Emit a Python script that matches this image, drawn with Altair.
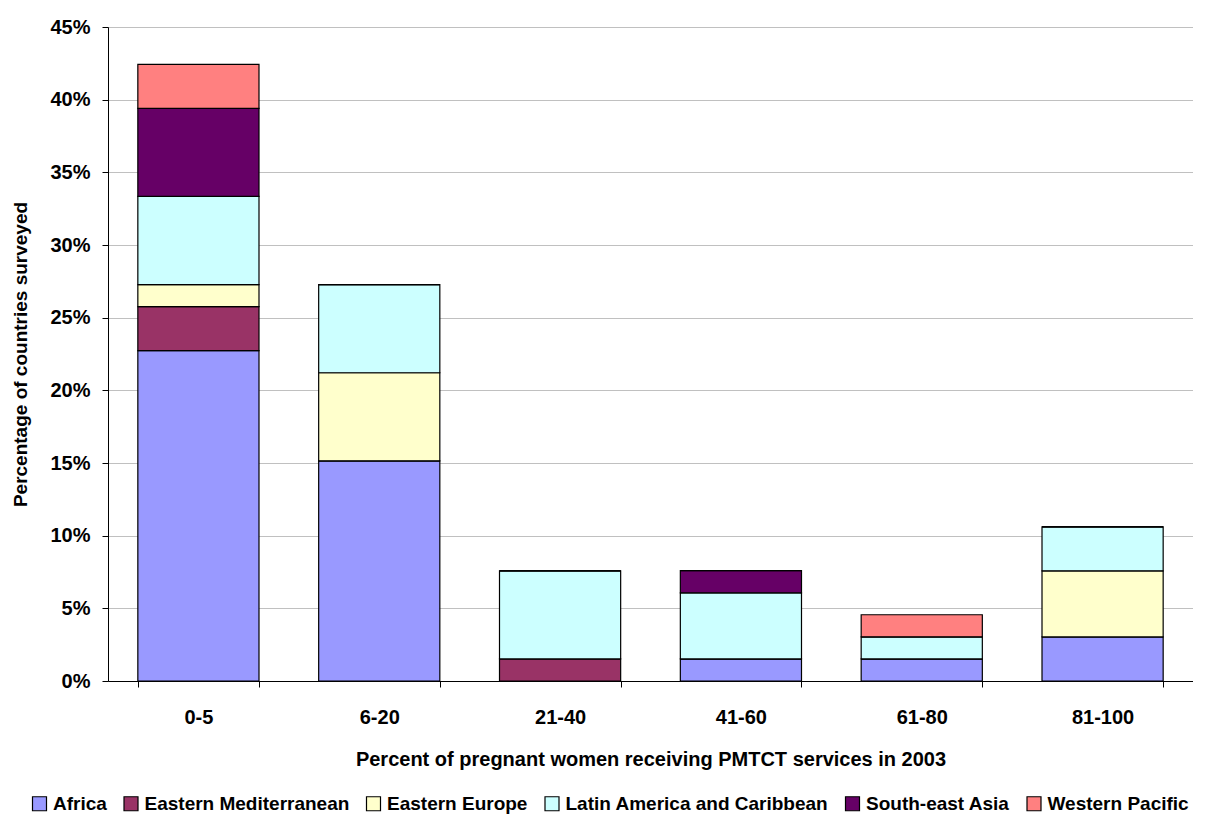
import altair as alt
import pandas as pd

categories = ["0-5", "6-20", "21-40", "41-60", "61-80", "81-100"]
regions = ["Africa", "Eastern Mediterranean", "Eastern Europe",
           "Latin America and Caribbean", "South-east Asia", "Western Pacific"]
colors = ["#9999FF", "#993366", "#FFFFCC", "#CCFFFF", "#660066", "#FF8080"]

# percentage of countries surveyed, per region, per category
africa = [22.73, 15.15, 0.0, 1.52, 1.52, 3.03]
eastern_med = [3.03, 0.0, 1.52, 0.0, 0.0, 0.0]
eastern_europe = [1.52, 6.06, 0.0, 0.0, 0.0, 4.55]
latin_america = [6.06, 6.06, 6.06, 4.55, 1.52, 3.03]
se_asia = [6.06, 0.0, 0.0, 1.52, 0.0, 0.0]
western_pacific = [3.03, 0.0, 0.0, 0.0, 1.52, 0.0]

series = [africa, eastern_med, eastern_europe, latin_america, se_asia, western_pacific]

rows = []
for ri, (reg, vals) in enumerate(zip(regions, series)):
    for cat, v in zip(categories, vals):
        rows.append({"category": cat, "region": reg, "order": ri, "value": v / 100.0})
df = pd.DataFrame(rows)

FONT = "Liberation Sans"

chart = alt.Chart(df).mark_bar(stroke="black", strokeWidth=1.2).encode(
    x=alt.X("category:N", sort=categories,
            scale=alt.Scale(paddingInner=0.33, paddingOuter=0.165),
            axis=alt.Axis(title="Percent of pregnant women receiving PMTCT services in 2003",
                          labelAngle=0, tickBand="extent", domainColor="black",
                          tickColor="black", tickSize=6, labelPadding=20,
                          labelFontSize=20, labelFont=FONT, labelFontWeight="bold",
                          labelColor="black",
                          titleFontSize=20, titleFont=FONT, titleFontWeight="bold",
                          titleColor="black", titlePadding=22, grid=False)),
    y=alt.Y("value:Q", stack="zero",
            scale=alt.Scale(domain=[0, 0.45], nice=False),
            axis=alt.Axis(title="Percentage of countries surveyed", format=".0%",
                          values=[i * 0.05 for i in range(10)],
                          domainColor="black", tickColor="black", tickSize=6,
                          labelPadding=12,
                          labelFontSize=20, labelFont=FONT, labelFontWeight="bold",
                          labelColor="black",
                          titleFontSize=19, titleFont=FONT, titleFontWeight="bold",
                          titleColor="black", titlePadding=19,
                          grid=True, gridColor="#c0c0c0", gridWidth=1)),
    color=alt.Color("region:N", sort=regions,
                    scale=alt.Scale(domain=regions, range=colors),
                    legend=alt.Legend(orient="none", legendX=-78, legendY=767,
                                      direction="horizontal", title=None,
                                      symbolType="square", symbolSize=196,
                                      symbolStrokeColor="black", symbolStrokeWidth=1.2,
                                      symbolOpacity=1, labelLimit=0,
                                      labelFontSize=19, labelFont=FONT,
                                      labelFontWeight="bold", labelColor="black",
                                      columnPadding=14.5, symbolOffset=0,
                                      labelOffset=4)),
    order=alt.Order("order:Q", sort="ascending"),
).properties(width=1085, height=654, padding={"left": 3, "top": 9, "right": 0, "bottom": 0}
).configure_view(stroke=None).configure(background="white")

chart.save("out.html", embed_options={"renderer": "svg", "actions": False})
